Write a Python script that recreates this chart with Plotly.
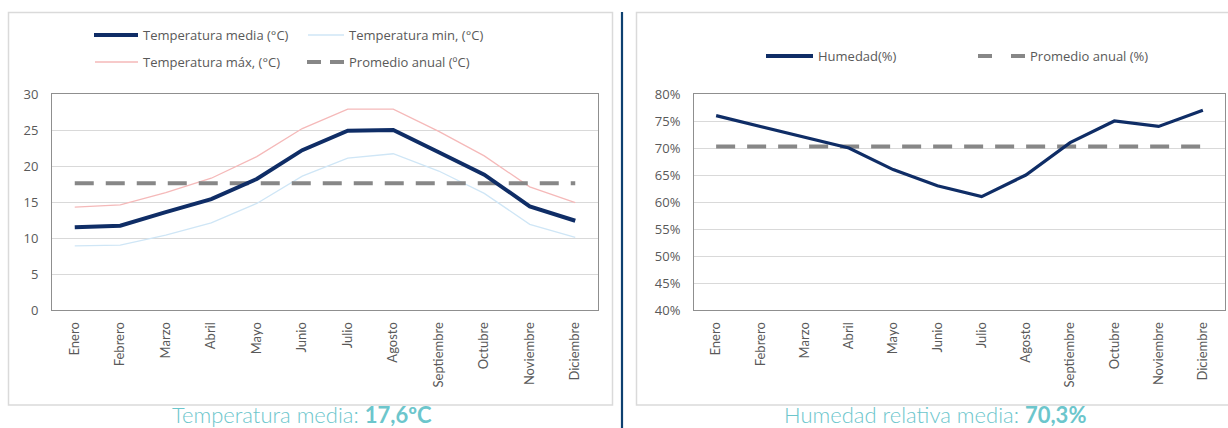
import plotly.graph_objects as go

# Monthly climate data
meses = ["Enero", "Febrero", "Marzo", "Abril", "Mayo", "Junio", "Julio",
         "Agosto", "Septiembre", "Octubre", "Noviembre", "Diciembre"]
temp_media = [11.5, 11.7, 13.6, 15.4, 18.2, 22.2, 24.9, 25.0, 21.9, 18.8, 14.4, 12.4]
temp_min = [8.9, 9.0, 10.4, 12.1, 14.8, 18.6, 21.1, 21.7, 19.3, 16.2, 11.9, 10.1]
temp_max = [14.3, 14.6, 16.3, 18.3, 21.3, 25.2, 27.9, 27.9, 24.8, 21.4, 17.1, 14.9]
temp_promedio = 17.6
humedad = [76, 74, 72, 70, 66, 63, 61, 65, 71, 75, 74, 77]
humedad_promedio = 70.3

W, H = 1228, 428

NAVY = "#0f2d66"
MIN_C = "#cfe6f6"
MAX_C = "#f5b9b9"
AVG_C = "#878787"
TEXT_C = "#595959"
TEAL = "#6cc6cc"
GRID_C = "#d9d9d9"
FRAME_C = "#8f8f8f"
CARD_C = "#dadada"
FONT = "Open Sans"


def px(x):
    return x / W


def py(y):
    return 1 - y / H


fig = go.Figure()

# Temperature panel
fig.add_trace(go.Scatter(x=meses, y=temp_min, mode="lines", name="Temperatura min, (°C)",
                         line=dict(color=MIN_C, width=1.3), xaxis="x", yaxis="y"))
fig.add_trace(go.Scatter(x=meses, y=temp_max, mode="lines", name="Temperatura máx, (°C)",
                         line=dict(color=MAX_C, width=1.3), xaxis="x", yaxis="y"))
fig.add_trace(go.Scatter(x=meses, y=[temp_promedio] * len(meses), mode="lines",
                         name="Promedio anual (ºC)",
                         line=dict(color=AVG_C, width=4, dash="19px,12px"), xaxis="x", yaxis="y"))
fig.add_trace(go.Scatter(x=meses, y=temp_media, mode="lines", name="Temperatura media (°C)",
                         line=dict(color=NAVY, width=4), xaxis="x", yaxis="y"))

# Humidity panel
fig.add_trace(go.Scatter(x=meses, y=[humedad_promedio] * len(meses), mode="lines",
                         name="Promedio anual (%)",
                         line=dict(color=AVG_C, width=4, dash="19px,12px"), xaxis="x2", yaxis="y2"))
fig.add_trace(go.Scatter(x=meses, y=humedad, mode="lines", name="Humedad(%)",
                         line=dict(color=NAVY, width=3.2), xaxis="x2", yaxis="y2"))

xaxis_common = dict(type="category", range=[-0.5, 11.5], tickangle=-90,
                    showline=True, mirror=True, linecolor=FRAME_C, linewidth=1,
                    showgrid=False, ticks="", zeroline=False, fixedrange=True,
                    automargin=False,
                    tickfont=dict(family="Lato", size=13, color=TEXT_C),
                    ticklabelstandoff=6)
yaxis_common = dict(showline=True, mirror=True, linecolor=FRAME_C, linewidth=1,
                    showgrid=True, gridcolor=GRID_C, gridwidth=1, zeroline=False,
                    ticks="", fixedrange=True, ticklabelstandoff=10, automargin=False,
                    tickfont=dict(family=FONT, size=13, color=TEXT_C))

fig.update_layout(
    width=W, height=H, autosize=False,
    margin=dict(l=0, r=0, t=0, b=0, pad=0, autoexpand=False),
    paper_bgcolor="white", plot_bgcolor="white",
    showlegend=False,
    xaxis=dict(domain=[px(52), px(598)], anchor="y", **xaxis_common),
    yaxis=dict(domain=[py(310), py(94)], anchor="x", range=[0, 30], dtick=5, **yaxis_common),
    xaxis2=dict(domain=[px(694), px(1225)], anchor="y2", **xaxis_common),
    yaxis2=dict(domain=[py(310), py(94)], anchor="x2", range=[40, 80], dtick=5,
                ticksuffix="%", **yaxis_common),
)

shapes = []
# Panel cards
shapes.append(dict(type="rect", xref="paper", yref="paper", x0=px(8.5), x1=px(612.5),
                   y0=py(405), y1=py(12.5), line=dict(color=CARD_C, width=1.5), layer="below"))
shapes.append(dict(type="rect", xref="paper", yref="paper", x0=px(636.5), x1=px(1240),
                   y0=py(405), y1=py(12.5), line=dict(color=CARD_C, width=1.5), layer="below"))
# Divider
shapes.append(dict(type="line", xref="paper", yref="paper", x0=px(622), x1=px(622),
                   y0=py(12), y1=py(428), line=dict(color="#0e4170", width=2.2)))

annotations = []


def legend_item(x0, x1, y, color, width, dash, label):
    shapes.append(dict(type="line", xref="paper", yref="paper", x0=px(x0), x1=px(x1),
                       y0=py(y), y1=py(y), line=dict(color=color, width=width, dash=dash)))
    annotations.append(dict(text=label, xref="paper", yref="paper", x=px(x1 + 3), y=py(y),
                            xanchor="left", yanchor="middle", showarrow=False,
                            font=dict(family=FONT, size=13, color=TEXT_C)))


legend_item(94, 138, 35, NAVY, 4, "solid", "Temperatura media (°C)")
legend_item(308, 344, 35, MIN_C, 1.3, "solid", "Temperatura min, (°C)")
legend_item(95, 138, 62, MAX_C, 1.3, "solid", "Temperatura máx, (°C)")
legend_item(307, 344, 62, AVG_C, 4, "14px,9px", "Promedio anual (ºC)")
legend_item(766, 813, 56, NAVY, 4, "solid", "Humedad(%)")
legend_item(978, 1025, 56, AVG_C, 4, "14px,19px,14px", "Promedio anual (%)")

# Summary captions under each panel
annotations.append(dict(
    text=f"Temperatura media: <b>{temp_promedio:.1f}ºC</b>".replace(".", ","),
    xref="paper", yref="paper", x=px(302), y=py(414), xanchor="center", yanchor="middle",
    showarrow=False, font=dict(family="Lato", size=22, color=TEAL, weight=300)))
annotations.append(dict(
    text=f"Humedad relativa media: <b>{humedad_promedio:.1f}%</b>".replace(".", ","),
    xref="paper", yref="paper", x=px(935), y=py(414), xanchor="center", yanchor="middle",
    showarrow=False, font=dict(family="Lato", size=22, color=TEAL, weight=300)))

fig.update_layout(shapes=shapes, annotations=annotations)

fig.write_html("out.html")
